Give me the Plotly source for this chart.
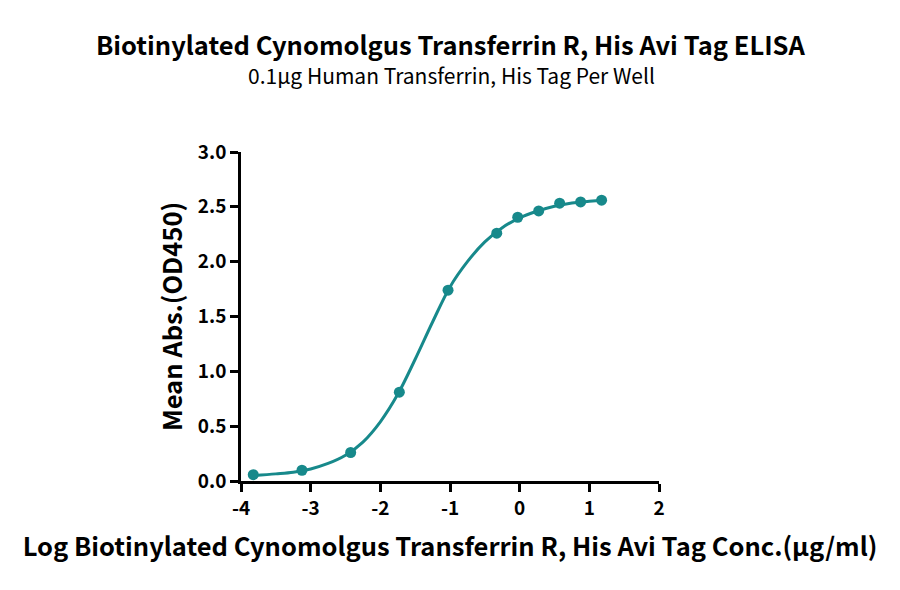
import plotly.graph_objects as go

# measured points (log conc, OD450)
log_conc = [-3.824, -3.125, -2.426, -1.727, -1.028, -0.329, -0.028, 0.273, 0.574, 0.875, 1.176]
od450 = [0.058, 0.098, 0.26, 0.81, 1.74, 2.26, 2.405, 2.463, 2.533, 2.545, 2.561]

# fitted curve
curve_x = [-3.82, -3.5, -3.25, -3.0, -2.75, -2.5, -2.25, -2.0, -1.75, -1.5, -1.25,
           -1.0, -0.75, -0.5, -0.25, 0.0, 0.25, 0.5, 0.75, 1.0, 1.19]
curve_y = [0.05, 0.065, 0.08, 0.11, 0.16, 0.235, 0.355, 0.54, 0.79, 1.11, 1.45,
           1.77, 2.0, 2.18, 2.31, 2.40, 2.46, 2.505, 2.535, 2.55, 2.56]

x_ticks = [-4, -3, -2, -1, 0, 1, 2]
y_ticks = [0.0, 0.5, 1.0, 1.5, 2.0, 2.5, 3.0]

teal = "#17898b"
font = "Noto Sans CJK SC"

# page draws with an 8px offset, so margins are shifted back
L, R, T, B = 233, 249, 144, 117
ph = 590 - T - B
pw = 900 - L - R

fig = go.Figure()
fig.add_trace(go.Scatter(x=curve_x, y=curve_y, mode="lines", line=dict(color=teal, width=3, shape="spline"),
                         showlegend=False, hoverinfo="skip"))
fig.add_trace(go.Scatter(x=log_conc, y=od450, mode="markers", marker=dict(color=teal, size=11),
                         showlegend=False))

fig.update_layout(
    width=900, height=590,
    margin=dict(l=L, r=R, t=T, b=B),
    paper_bgcolor="white", plot_bgcolor="white",
    font=dict(family=font, color="black"),
    annotations=[
        dict(text="<b>Biotinylated Cynomolgus Transferrin R, His Avi Tag ELISA</b>",
             x=(443 - L) / pw, y=1 + (T - 35) / ph, xref="paper", yref="paper", yanchor="middle",
             showarrow=False, font=dict(size=25.5)),
        dict(text="0.1μg Human Transferrin, His Tag Per Well",
             x=(443 - L) / pw, y=1 + (T - 67) / ph, xref="paper", yref="paper", yanchor="middle",
             showarrow=False, font=dict(size=21)),
    ],
)

fig.update_xaxes(range=[-4, 2], tickvals=x_ticks, ticktext=["<b>%d</b>" % t for t in x_ticks],
                 showline=True, linecolor="black", linewidth=2.5, ticks="outside", ticklen=8,
                 tickwidth=2.5, tickcolor="black", showgrid=False, zeroline=False,
                 tickfont=dict(size=19, family=font),
                 title=dict(text="<b>Log Biotinylated Cynomolgus Transferrin R, His Avi Tag Conc.(μg/ml)</b>",
                            font=dict(size=25.5, family=font), standoff=20))
fig.update_yaxes(range=[0, 3], tickvals=y_ticks, ticktext=["<b>%.1f</b>" % t for t in y_ticks],
                 showline=True, linecolor="black", linewidth=2.5, ticks="outside", ticklen=8,
                 tickwidth=2.5, tickcolor="black", showgrid=False, zeroline=False,
                 tickfont=dict(size=19, family=font),
                 title=dict(text="<b>Mean Abs.(OD450)</b>", font=dict(size=25.5, family=font), standoff=8))

fig.write_html("out.html")
